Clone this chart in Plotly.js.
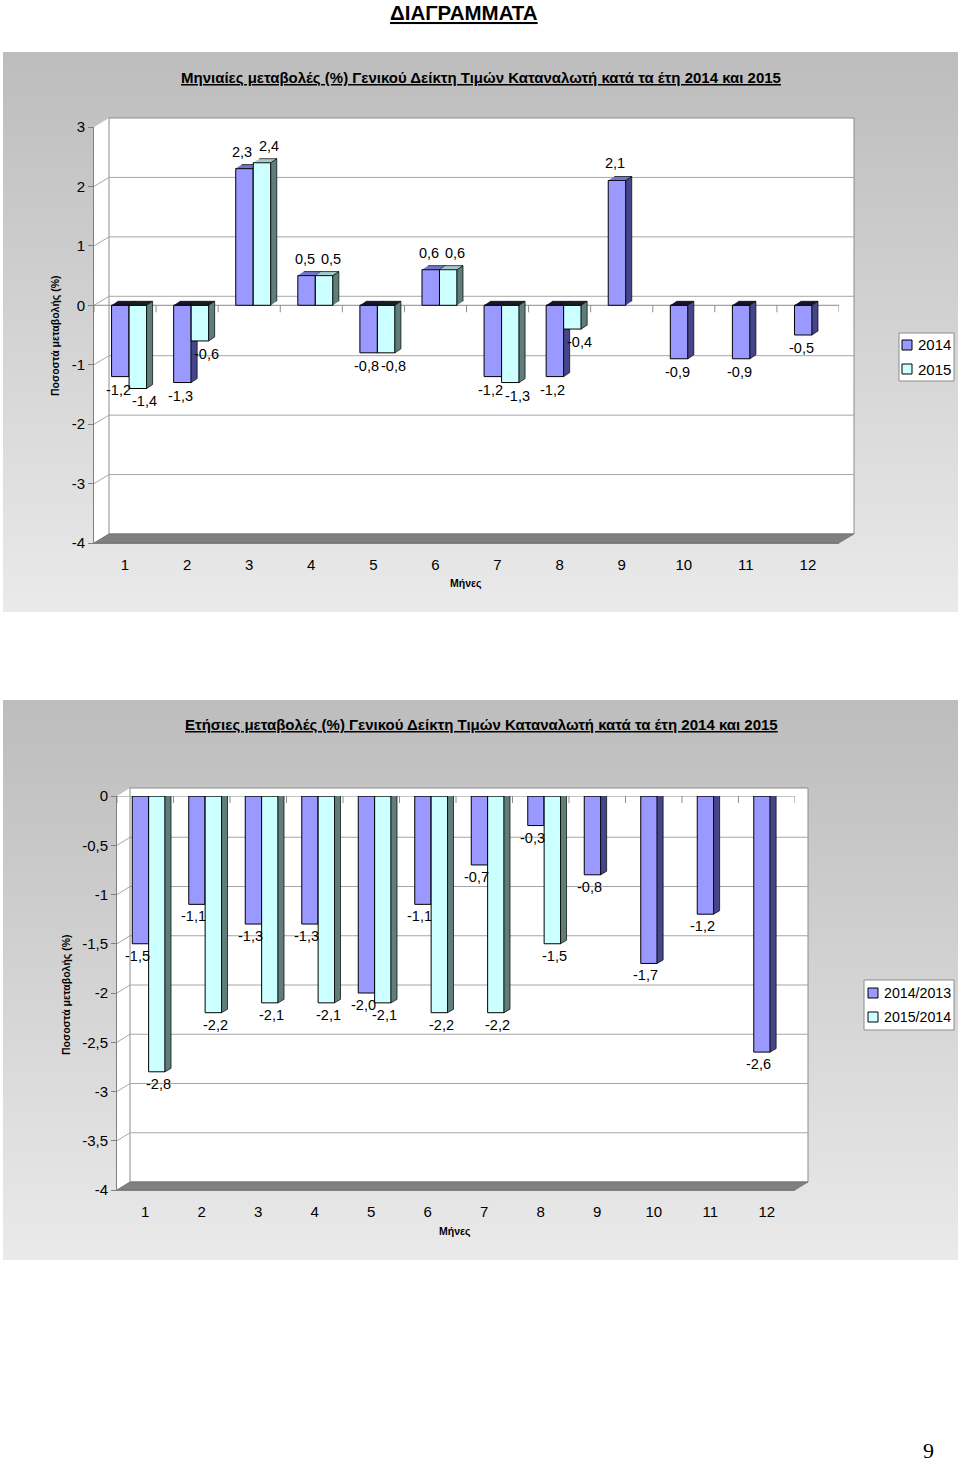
<!DOCTYPE html>
<html>
<head>
<meta charset="utf-8">
<script src="https://cdn.plot.ly/plotly-3.0.1.min.js"></script>
<style>
  html, body { margin:0; padding:0; background:#fff; }
  .bg { position:absolute; left:3px; width:955px; height:560px;
        background: linear-gradient(to bottom, #bdbdbd 0%, #c1c1c1 11%, #d3d3d3 50%, #eaeaea 100%); }
  #chart { position:absolute; left:0; top:0; width:960px; height:1465px; }
</style>
</head>
<body>
<div class="bg" style="top:52px"></div>
<div class="bg" style="top:700px"></div>
<div id="chart"></div>
<script>
// ---------------- data ----------------
const months = [1,2,3,4,5,6,7,8,9,10,11,12];
const monthLabels = ['1','2','3','4','5','6','7','8','9','10','11','12'];
const monthly2014 = [-1.2,-1.3,2.3,0.5,-0.8,0.6,-1.2,-1.2,2.1,-0.9,-0.9,-0.5];
const monthly2015 = [-1.4,-0.6,2.4,0.5,-0.8,0.6,-1.3,-0.4,null,null,null,null];
const annual2014 = [-1.5,-1.1,-1.3,-1.3,-2.0,-1.1,-0.7,-0.3,-0.8,-1.7,-1.2,-2.6];
const annual2015 = [-2.8,-2.2,-2.1,-2.1,-2.1,-2.2,-2.2,-1.5,null,null,null,null];
const yTicks1 = [3,2,1,0,-1,-2,-3,-4];
const yTicks2 = [0,-0.5,-1,-1.5,-2,-2.5,-3,-3.5,-4];
const pageTitle = 'ΔΙΑΓΡΑΜΜΑΤΑ';
const title1 = 'Μηνιαίες μεταβολές (%) Γενικού Δείκτη Τιμών Καταναλωτή κατά τα έτη 2014 και 2015';
const title2 = 'Ετήσιες μεταβολές (%) Γενικού Δείκτη Τιμών Καταναλωτή κατά τα έτη 2014 και 2015';
const yTitle = 'Ποσοστά μεταβολής (%)';
const xTitle = 'Μήνες';
const names1 = ['2014','2015'];
const names2 = ['2014/2013','2015/2014'];

// ---------------- layout helpers ----------------
const PW = 960, PH = 1465;
const px = x => x / PW;
const py = y => 1 - y / PH;
const fmt = v => v.toFixed(1).replace('.', ',');
const fmtTick = v => String(v).replace('.', ',');
const FONT = 'Liberation Sans, Arial, sans-serif';

// pixel frames of the two charts (front plane) and 3D depth
const C1 = {L:94, R:839, T:127, B:543, dx:15, dy:9, ymin:-4, ymax:3, w:0.282, s:0.065, bdx:6, bdy:4,
            lblUp:17, lblDown:13, shA:-2, shB:7,
            legend:{x0:899, x1:954, y0:333, y1:381, sw:902, tx:916, rows:[345, 369], size:15}};
const C2 = {L:117, R:795, T:796, B:1190, dx:13, dy:8, ymin:-4, ymax:0, w:0.29, s:0.06, bdx:6, bdy:3.5,
            lblUp:17, lblDown:12, shA:-3, shB:2,
            legend:{x0:864, x1:954, y0:980, y1:1030, sw:868, tx:882, rows:[993, 1017], size:14.2}};

const col = {
  a: {front:'#9999FF', side:'#45458a', topPos:'#7474c8', topNeg:'#15152a'},
  b: {front:'#CCFFFF', side:'#5f7d79', topPos:'#a6caca', topNeg:'#152020'}
};

function seriesTraces(vals, c, which, xa, ya, name) {
  const offset = which === 'a' ? -c.w + c.s : c.s;
  const catPx = (c.R - c.L) / 12;
  const ddx = c.bdx / catPx;
  const ddy = c.bdy / ((c.B - c.T) / (c.ymax - c.ymin));
  const side = {x:[], y:[]}, tp = {x:[], y:[]}, tn = {x:[], y:[]};
  months.forEach((m, i) => {
    const v = vals[i];
    if (v === null) return;
    const xl = m + offset, xr = xl + c.w;
    side.x.push(xr, xr, xr + ddx, xr + ddx, null);
    side.y.push(0, v, v + ddy, ddy, null);
    const t = Math.max(v, 0);
    const tgt = v >= 0 ? tp : tn;
    tgt.x.push(xl, xr, xr + ddx, xl + ddx, null);
    tgt.y.push(t, t, t + ddy, t + ddy, null);
  });
  const cc = col[which];
  const face = (d, fc) => ({type:'scatter', mode:'lines', x:d.x, y:d.y, xaxis:xa, yaxis:ya,
    fill:'toself', fillcolor:fc, line:{color:'#000', width:0.7}, hoverinfo:'skip', showlegend:false});
  return [
    {type:'bar', x:months, y:vals, xaxis:xa, yaxis:ya, width:c.w, offset:offset, name:name, showlegend:false,
     marker:{color:cc.front, line:{color:'#000', width:1}}, hoverinfo:'skip'},
    face(side, cc.side), face(tp, cc.topPos), face(tn, cc.topNeg)
  ];
}

function labelAnns(vals, c, which, xa, ya) {
  const offset = which === 'a' ? -c.w + c.s : c.s;
  const out = [];
  months.forEach((m, i) => {
    const v = vals[i];
    if (v === null) return;
    out.push({xref:xa, yref:ya, x:m + offset + c.w / 2, y:v, xshift: which === 'a' ? c.shA : c.shB,
      yshift: v >= 0 ? c.lblUp : -c.lblDown, text:fmt(v), showarrow:false,
      xanchor:'center', yanchor:'middle', font:{family:FONT, size:14.5, color:'#000'}});
  });
  return out;
}

function chartShapes(c, yTicks, xa, ya) {
  const s = [];
  const {L, R, T, B, dx, dy} = c;
  const grid = {color:'#a6a6a6', width:1};
  s.push({type:'path', xref:'paper', yref:'paper', layer:'below',
    path:`M${px(L)},${py(T)} L${px(L+dx)},${py(T-dy)} L${px(L+dx)},${py(B-dy)} L${px(L)},${py(B)} Z`,
    fillcolor:'#fff', line:{width:0}});
  s.push({type:'rect', xref:'paper', yref:'paper', layer:'below',
    x0:px(L+dx), x1:px(R+dx), y0:py(B-dy), y1:py(T-dy), fillcolor:'#fff', line:{color:'#8c8c8c', width:1}});
  yTicks.forEach(v => {
    s.push({type:'line', xref:'paper', yref:ya, ysizemode:'pixel', yanchor:v, layer:'below',
      x0:px(L+dx), x1:px(R+dx), y0:dy, y1:dy, line:grid});
    s.push({type:'line', xref:'paper', yref:ya, ysizemode:'pixel', yanchor:v, layer:'below',
      x0:px(L), x1:px(L+dx), y0:0, y1:dy, line:grid});
  });
  s.push({type:'path', xref:'paper', yref:'paper', layer:'below',
    path:`M${px(L)},${py(B)} L${px(R)},${py(B)} L${px(R+dx)},${py(B-dy)} L${px(L+dx)},${py(B-dy)} Z`,
    fillcolor:'#808080', line:{color:'#6a6a6a', width:0.6}});
  s.push({type:'line', xref:'paper', yref:ya, layer:'below', x0:px(L), x1:px(R), y0:0, y1:0,
    line:{color:'#8c8c8c', width:1}});
  const bounds = months.map(m => m - 0.5).concat([months[months.length - 1] + 0.5]);
  bounds.forEach(b => {
    s.push({type:'line', xref:xa, yref:ya, ysizemode:'pixel', yanchor:0, x0:b, x1:b, y0:0, y1:-7,
      line:{color:'#8c8c8c', width:1}});
    s.push({type:'line', xref:xa, yref:ya, ysizemode:'pixel', yanchor:c.ymin, x0:b, x1:b, y0:0, y1:-8,
      line:{color:'#8c8c8c', width:1}});
  });
  // legend box and swatches
  const lg = c.legend;
  s.push({type:'rect', xref:'paper', yref:'paper', layer:'below', x0:px(lg.x0), x1:px(lg.x1),
    y0:py(lg.y1), y1:py(lg.y0), fillcolor:'#fff', line:{color:'#8c8c8c', width:1}});
  ['a', 'b'].forEach((k, i) => {
    const cy = lg.rows[i];
    s.push({type:'rect', xref:'paper', yref:'paper', layer:'above', x0:px(lg.sw), x1:px(lg.sw + 10),
      y0:py(cy + 5), y1:py(cy - 5), fillcolor:col[k].front, line:{color:'#000', width:1}});
  });
  return s;
}

function legendTexts(c, names) {
  const lg = c.legend;
  return names.map((n, i) => ({xref:'paper', yref:'paper', x:px(lg.tx), y:py(lg.rows[i]), text:n,
    showarrow:false, xanchor:'left', yanchor:'middle', font:{family:FONT, size:lg.size, color:'#000'}}));
}

function xAxis(c, anchor) {
  return {domain:[px(c.L), px(c.R)], range:[0.5, 12.5], tickvals:months, ticktext:monthLabels,
    ticks:'outside', ticklen:8, tickcolor:'rgba(0,0,0,0)', showline:true, linecolor:'#808080', linewidth:1,
    showgrid:false, zeroline:false, anchor:anchor, tickfont:{family:FONT, size:15, color:'#000'}, fixedrange:true};
}
function yAxis(c, ticks, anchor) {
  return {domain:[py(c.B), py(c.T)], range:[c.ymin, c.ymax], tickvals:ticks, ticktext:ticks.map(fmtTick),
    ticks:'outside', ticklen:5, tickcolor:'#808080', showline:true, linecolor:'#808080', linewidth:1,
    showgrid:false, zeroline:false, anchor:anchor, tickfont:{family:FONT, size:15, color:'#000'}, fixedrange:true};
}

const traces = [].concat(
  seriesTraces(monthly2014, C1, 'a', 'x', 'y', names1[0]),
  seriesTraces(monthly2015, C1, 'b', 'x3', 'y3', names1[1]),
  seriesTraces(annual2014, C2, 'a', 'x2', 'y2', names2[0]),
  seriesTraces(annual2015, C2, 'b', 'x4', 'y4', names2[1])
);

const txt = (x, y, text, size, extra) => Object.assign({xref:'paper', yref:'paper', x:px(x), y:py(y),
  text:text, showarrow:false, xanchor:'center', yanchor:'middle',
  font:{family:FONT, size:size, color:'#000'}}, extra || {});

const annotations = [].concat(
  [txt(464, 12, '<b><u>' + pageTitle + '</u></b>', 20.5),
   txt(481, 78, '<b><u>' + title1 + '</u></b>', 15),
   txt(481, 724, '<b><u>' + title2 + '</u></b>', 15),
   txt(55, 336, '<b>' + yTitle + '</b>', 10.5, {textangle:-90}),
   txt(66, 995, '<b>' + yTitle + '</b>', 10.5, {textangle:-90}),
   txt(466, 583, '<b>' + xTitle + '</b>', 10.5),
   txt(455, 1231, '<b>' + xTitle + '</b>', 10.5),
   txt(928, 1450, '9', 22, {font:{family:'Liberation Serif, Times New Roman, serif', size:22, color:'#000'}})],
  legendTexts(C1, names1),
  legendTexts(C2, names2),
  labelAnns(monthly2014, C1, 'a', 'x', 'y'),
  labelAnns(monthly2015, C1, 'b', 'x', 'y'),
  labelAnns(annual2014, C2, 'a', 'x2', 'y2'),
  labelAnns(annual2015, C2, 'b', 'x2', 'y2')
);

const layout = {
  width:PW, height:PH, margin:{l:0, r:0, t:0, b:0},
  paper_bgcolor:'rgba(0,0,0,0)', plot_bgcolor:'rgba(0,0,0,0)',
  barmode:'overlay', separators:',.', showlegend:false,
  font:{family:FONT, size:14, color:'#000'},
  xaxis: xAxis(C1, 'y'),
  yaxis: yAxis(C1, yTicks1, 'x'),
  xaxis3: {overlaying:'x', range:[0.5, 12.5], visible:false, anchor:'y3', fixedrange:true},
  yaxis3: {overlaying:'y', range:[C1.ymin, C1.ymax], visible:false, anchor:'x3', fixedrange:true},
  xaxis2: xAxis(C2, 'y2'),
  yaxis2: yAxis(C2, yTicks2, 'x2'),
  xaxis4: {overlaying:'x2', range:[0.5, 12.5], visible:false, anchor:'y4', fixedrange:true},
  yaxis4: {overlaying:'y2', range:[C2.ymin, C2.ymax], visible:false, anchor:'x4', fixedrange:true},
  shapes: [].concat(chartShapes(C1, yTicks1, 'x', 'y'), chartShapes(C2, yTicks2, 'x2', 'y2')),
  annotations: annotations
};

Plotly.newPlot('chart', traces, layout, {displayModeBar:false, staticPlot:true});
</script>
</body>
</html>
